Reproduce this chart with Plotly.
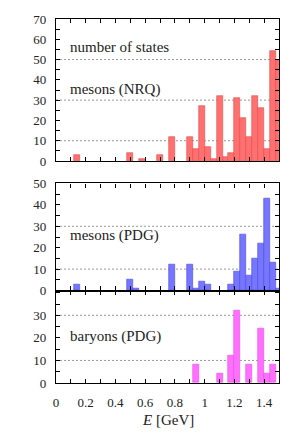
import plotly.graph_objects as go

# bin width and bin lower edges (GeV)
bin_width = 0.04

nrq_E = [0.12, 0.48, 0.56, 0.68, 0.76, 0.88, 0.92, 0.96, 1.00, 1.04, 1.08, 1.12,
         1.16, 1.20, 1.24, 1.28, 1.32, 1.36, 1.40, 1.44, 1.48]
nrq_N = [3, 4, 1, 3, 12, 12, 6, 27, 7, 1, 32, 2, 4, 31, 21, 12, 32, 26, 6, 54, 50]

pdgm_E = [0.12, 0.48, 0.52, 0.76, 0.88, 0.92, 0.96, 1.00, 1.16, 1.20, 1.24, 1.28,
          1.32, 1.36, 1.40, 1.44, 1.48]
pdgm_N = [3, 5, 1, 12, 12, 1, 4, 3, 3, 9, 26, 7, 15, 22, 43, 13, 1]

pdgb_E = [0.92, 1.08, 1.16, 1.20, 1.28, 1.36, 1.40, 1.44]
pdgb_N = [8, 4, 12, 32, 8, 24, 4, 8]

x_ticks = [0, 0.2, 0.4, 0.6, 0.8, 1.0, 1.2, 1.4]
x_ticktext = ["0", "0.2", "0.4", "0.6", "0.8", "1", "1.2", "1.4"]

grid1 = [10, 30, 50]
grid2 = [10, 30]
grid3 = [10, 30]

FONT = "Liberation Serif"

fig = go.Figure()

panels = [
    (nrq_E, nrq_N, "rgb(255,112,112)", "rgb(235,70,70)", "x", "y"),
    (pdgm_E, pdgm_N, "rgb(118,118,255)", "rgb(70,70,235)", "x2", "y2"),
    (pdgb_E, pdgb_N, "rgb(255,112,255)", "rgb(235,70,235)", "x3", "y3"),
]
for E, N, fill, edge, xa, ya in panels:
    fig.add_trace(go.Bar(x=E, y=N, width=bin_width, offset=0,
                         marker=dict(color=fill, line=dict(color=edge, width=0.6)),
                         xaxis=xa, yaxis=ya, showlegend=False))

axis_common = dict(showline=True, linecolor="black", linewidth=1.2, mirror="ticks",
                   ticks="inside", ticklen=4, tickwidth=1, tickcolor="black",
                   showgrid=False, zeroline=False, automargin=False,
                   tickfont=dict(family=FONT, size=13, color="#222"))

xcommon = dict(axis_common, range=[0, 1.5], tickvals=x_ticks, ticktext=x_ticktext,
               minor=dict(dtick=0.1, tick0=0, ticks="inside", ticklen=4,
                          tickcolor="black", tickwidth=1, showgrid=False))

# the page body has an 8px margin, so the figure is 8px smaller each way
fig.update_layout(
    width=295, height=433,
    margin=dict(l=48, r=24, t=11, b=58, autoexpand=False),
    paper_bgcolor="white", plot_bgcolor="white",
    bargap=0,
    xaxis=dict(xcommon, anchor="y", showticklabels=False),
    xaxis2=dict(xcommon, anchor="y2", showticklabels=False),
    xaxis3=dict(xcommon, anchor="y3", showticklabels=True, ticklabelstandoff=7),
    yaxis=dict(axis_common, domain=[0.6099, 1.0], range=[0, 70], dtick=10, tick0=0,
               ticklabelstandoff=6,
               minor=dict(dtick=5, ticks="inside", ticklen=4, tickcolor="black")),
    yaxis2=dict(axis_common, domain=[0.2541, 0.5481], range=[0, 50], dtick=10, tick0=0,
                ticklabelstandoff=6,
                minor=dict(dtick=5, ticks="inside", ticklen=4, tickcolor="black")),
    yaxis3=dict(axis_common, domain=[0.0, 0.2541], range=[0, 41],
                tickvals=[0, 10, 20, 30], ticklabelstandoff=6,
                minor=dict(dtick=5, ticks="inside", ticklen=4, tickcolor="black")),
)

for vals, xr, yr in [(grid1, "x domain", "y"), (grid2, "x2 domain", "y2"),
                     (grid3, "x3 domain", "y3")]:
    for v in vals:
        fig.add_shape(type="line", xref=xr, yref=yr, x0=0, x1=1, y0=v, y1=v,
                      line=dict(color="#9a9a9a", width=1, dash="2px,2px"),
                      layer="below")

labels = [
    ("number of states", "x domain", "y", 56.3),
    ("mesons (NRQ)", "x domain", "y", 35.3),
    ("mesons (PDG)", "x2 domain", "y2", 25.7),
    ("baryons (PDG)", "x3 domain", "y3", 20.8),
]
for txt, xr, yr, yv in labels:
    fig.add_annotation(text=txt, xref=xr, yref=yr, x=0.054, y=yv,
                       xanchor="left", yanchor="middle", showarrow=False,
                       font=dict(family=FONT, size=15, color="#222"))

fig.add_annotation(text="<i>E</i> [GeV]", xref="paper", yref="paper", x=0.5, y=0,
                   yshift=-37, xanchor="center", yanchor="middle", showarrow=False,
                   font=dict(family=FONT, size=15, color="#222"))

fig.write_html("out.html")
